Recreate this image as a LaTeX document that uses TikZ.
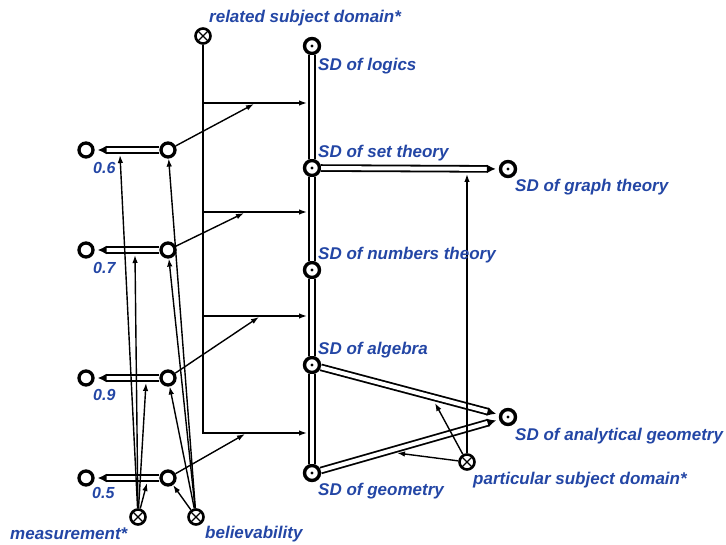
\documentclass[tikz,border=0pt]{standalone}
\usepackage{fontspec}
\setmainfont{Liberation Sans}
\usetikzlibrary{arrows.meta}
\definecolor{lblue}{RGB}{35,70,165}
\begin{document}
\begin{tikzpicture}[x=1pt,y=-1pt,
  plain/.style={circle,draw,line width=3.3pt,minimum size=14pt,inner sep=0pt},
  dotc/.style={circle,draw,line width=3.4pt,minimum size=15pt,inner sep=0pt,
    path picture={\fill (path picture bounding box.center) circle (1.6pt);}},
  crossc/.style={circle,draw,line width=2.6pt,minimum size=15pt,inner sep=0pt,
    path picture={\draw[line width=1.2pt]
      (path picture bounding box.south west)--(path picture bounding box.north east)
      (path picture bounding box.north west)--(path picture bounding box.south east);}},
  lbl/.style={text=lblue,font=\bfseries\itshape\fontsize{17}{19}\selectfont,inner sep=0pt,anchor=west},
  num/.style={lbl,font=\bfseries\itshape\fontsize{16}{18}\selectfont},
  conn/.style={line width=1.4pt,-{Latex[length=8pt,width=5.5pt]}},
  dbl/.style={double,double distance=4pt,line width=1.8pt},
  dblarr/.style={dbl,-{Latex[length=9pt,width=9pt]},shorten >=3pt}
]
\useasboundingbox (0,0) rectangle (726,545);

% SD chain
\node[dotc] (logic) at (312,46) {};
\node[dotc] (set) at (312,168) {};
\node[dotc] (num) at (312,270) {};
\node[dotc] (alg) at (312,365) {};
\node[dotc] (geo) at (312,473) {};
\node[dotc] (graph) at (508,169) {};
\node[dotc] (anal) at (508,417) {};

\draw[dbl] (logic) -- (set);
\draw[dbl] (set) -- (num);
\draw[dbl] (num) -- (alg);
\draw[dbl] (alg) -- (geo);
\draw[dblarr] (set) -- (graph);
\draw[dblarr] (alg) -- (anal);
\draw[dblarr] (geo) -- (anal);

% related subject domain
\node[crossc] (rel) at (203,36) {};
\coordinate (b1) at (203,103);
\coordinate (b2) at (203,212);
\coordinate (b3) at (203,316);
\coordinate (b4) at (203,433);
\coordinate (t1) at (307,103);
\coordinate (t2) at (307,212);
\coordinate (t3) at (307,316);
\coordinate (t4) at (307,433);
\draw[conn] (rel) -- (b4) -- (t4);
\draw[conn] (b1) -- (t1);
\draw[conn] (b2) -- (t2);
\draw[conn] (b3) -- (t3);

% left rows
\node[plain] (l06) at (86,150) {};
\node[plain] (r06) at (168,150) {};
\node[plain] (l07) at (86,250) {};
\node[plain] (r07) at (168,250) {};
\node[plain] (l09) at (86,378) {};
\node[plain] (r09) at (168,378) {};
\node[plain] (l05) at (86,478) {};
\node[plain] (r05) at (168,478) {};
\draw[dblarr] (r06) -- (l06);
\draw[dblarr] (r07) -- (l07);
\draw[dblarr] (r09) -- (l09);
\draw[dblarr] (r05) -- (l05);

\coordinate (m1) at (254,104);
\coordinate (m2) at (244,213);
\coordinate (m3) at (259,317);
\coordinate (m4) at (245,434);
\draw[conn] (r06) -- (m1);
\draw[conn] (r07) -- (m2);
\draw[conn] (r09) -- (m3);
\draw[conn] (r05) -- (m4);

% measurement
\node[crossc] (mea) at (138,517) {};
\coordinate (d06) at (120,155);
\coordinate (d07) at (135,255);
\coordinate (d09) at (146,383);
\coordinate (d05) at (147,483);
\draw[conn] (mea) -- (d06);
\draw[conn] (mea) -- (d07);
\draw[conn] (mea) -- (d09);
\draw[conn] (mea) -- (d05);

% believability
\node[crossc] (bel) at (196,517) {};
\draw[conn] (bel) -- (r06);
\draw[conn] (bel) -- (r07);
\draw[conn] (bel) -- (r09);
\draw[conn] (bel) -- (r05);

% particular subject domain
\node[crossc] (par) at (467,462) {};
\coordinate (g1) at (467,174);
\coordinate (g2) at (435,403);
\coordinate (g3) at (397,453);
\draw[conn] (par) -- (g1);
\draw[conn] (par) -- (g2);
\draw[conn] (par) -- (g3);

% labels
\node[lbl] (trel) at (209,18) {related subject domain*};
\node[lbl] (tlog) at (318,66) {SD of logics};
\node[lbl] (tset) at (318,153) {SD of set theory};
\node[lbl] (tgr) at (515,187) {SD of graph theory};
\node[lbl] (tnum) at (318,255) {SD of numbers theory};
\node[lbl] (talg) at (318,350) {SD of algebra};
\node[lbl] (tan) at (515,436) {SD of analytical geometry};
\node[lbl] (tpar) at (473,480) {particular subject domain*};
\node[lbl] (tgeo) at (318,491) {SD of geometry};
\node[lbl] (tmea) at (10,534) {measurement*};
\node[lbl] (tbel) at (205,534) {believability};
\node[num] (v06) at (93,168) {0.6};
\node[num] (v07) at (93,268) {0.7};
\node[num] (v09) at (93,395) {0.9};
\node[num] (v05) at (92,493) {0.5};
\end{tikzpicture}
\end{document}
